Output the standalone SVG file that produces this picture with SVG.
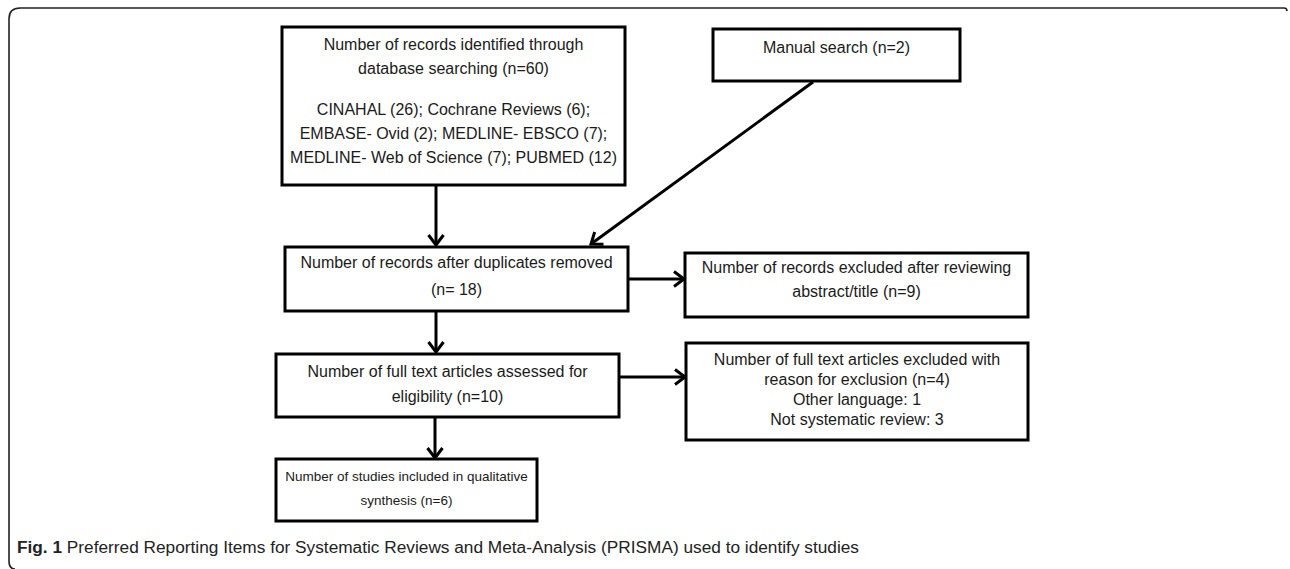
<svg xmlns="http://www.w3.org/2000/svg" width="1290" height="569" viewBox="0 0 1290 569">
<defs>
<style>
.box{fill:#fff;stroke:#000;stroke-width:3}
.t{font-family:"Liberation Sans",Arial,sans-serif;font-size:16px;fill:#1a1a1a;text-anchor:middle}
.s{font-size:13.5px}
.c{stroke:#000;stroke-width:3;fill:none}
.cap{font-family:"Liberation Sans",Arial,sans-serif;font-size:16px;fill:#222}
</style>
<marker id="arr" markerWidth="20" markerHeight="20" refX="12" refY="10" orient="auto" markerUnits="userSpaceOnUse" overflow="visible">
<path d="M2 2.5 L12 10 L2 17.5" fill="none" stroke="#000" stroke-width="3"/>
</marker>
</defs>
<rect width="1290" height="569" fill="#fff"/>
<path d="M1287 11 Q1287 8 1284 8 L20 8 Q9 8 9 19 L9 561 Q9 569 15 569" fill="none" stroke="#222" stroke-width="1.6"/>

<g id="connectors">
<line class="c" x1="436" y1="186" x2="436" y2="245" marker-end="url(#arr)"/>
<line class="c" x1="813" y1="82" x2="591" y2="244" marker-end="url(#arr)"/>
<line class="c" x1="629" y1="279" x2="684" y2="279" marker-end="url(#arr)"/>
<line class="c" x1="436" y1="312" x2="436" y2="352" marker-end="url(#arr)"/>
<line class="c" x1="620" y1="377" x2="685" y2="377" marker-end="url(#arr)"/>
<line class="c" x1="435" y1="418" x2="435" y2="458" marker-end="url(#arr)"/>
</g>

<g id="n_database">
<rect class="box" x="282" y="27" width="343" height="158"/>
<text class="t" x="453.5" y="50">Number of records identified through</text>
<text class="t" x="453.5" y="74">database searching (n=60)</text>
<text class="t" x="453.5" y="115">CINAHAL (26); Cochrane Reviews (6);</text>
<text class="t" x="453.5" y="139">EMBASE- Ovid (2); MEDLINE- EBSCO (7);</text>
<text class="t" x="453.5" y="163">MEDLINE- Web of Science (7); PUBMED (12)</text>
</g>

<g id="n_manual">
<rect class="box" x="713" y="29" width="247" height="52"/>
<text class="t" x="836.5" y="53">Manual search (n=2)</text>
</g>

<g id="n_duplicates">
<rect class="box" x="285" y="247" width="343" height="64"/>
<text class="t" x="456.5" y="268">Number of records after duplicates removed</text>
<text class="t" x="456.5" y="295">(n= 18)</text>
</g>

<g id="n_excluded_abstract">
<rect class="box" x="685" y="253" width="343" height="64"/>
<text class="t" x="856.5" y="273">Number of records excluded after reviewing</text>
<text class="t" x="856.5" y="297">abstract/title (n=9)</text>
</g>

<g id="n_fulltext">
<rect class="box" x="276" y="354" width="343" height="63"/>
<text class="t" x="447.5" y="377">Number of full text articles assessed for</text>
<text class="t" x="447.5" y="402">eligibility (n=10)</text>
</g>

<g id="n_excluded_fulltext">
<rect class="box" x="686" y="343" width="342" height="97"/>
<text class="t" x="857" y="365">Number of full text articles excluded with</text>
<text class="t" x="857" y="385">reason for exclusion (n=4)</text>
<text class="t" x="857" y="405">Other language: 1</text>
<text class="t" x="857" y="425">Not systematic review: 3</text>
</g>

<g id="n_included">
<rect class="box" x="276" y="459" width="261" height="62"/>
<text class="t s" x="406.5" y="481">Number of studies included in qualitative</text>
<text class="t s" x="406.5" y="505">synthesis (n=6)</text>
</g>

<text class="cap" x="17" y="553" textLength="842" lengthAdjust="spacingAndGlyphs"><tspan font-weight="bold">Fig. 1</tspan> Preferred Reporting Items for Systematic Reviews and Meta-Analysis (PRISMA) used to identify studies</text>
</svg>
